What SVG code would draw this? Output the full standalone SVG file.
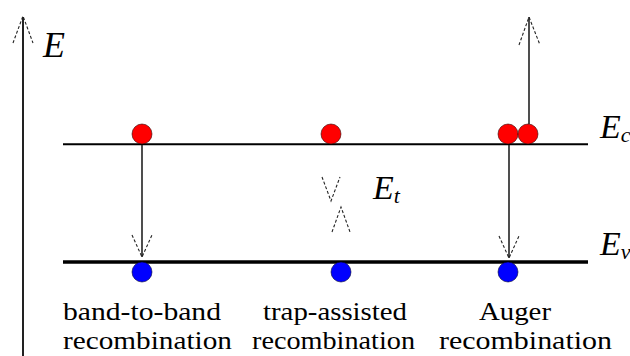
<svg xmlns="http://www.w3.org/2000/svg" width="630" height="356" viewBox="0 0 630 356">
<style>
.axis{stroke:#222;stroke-width:2;fill:none}
.lvl{stroke:#000;fill:none}
.shaft{stroke:#222;stroke-width:1.6;fill:none}
.head{stroke:#222;stroke-width:1.1;fill:none;stroke-dasharray:3 2}
.e{fill:#ff0000;stroke:#300;stroke-width:0.6}
.h{fill:#0000ff;stroke:#003;stroke-width:0.6}
text{fill:#000;font-family:'Liberation Serif','DejaVu Serif',serif}
.lbl{font-size:25px}
.sym{font-style:italic}
</style>
<rect width="630" height="356" fill="#fff"/>
<g id="energy-axis">
<line class="axis" x1="23" y1="356" x2="23" y2="17"/>
<path class="head" d="M13,43 L23,16 L33,43"/>
<text class="sym" x="43" y="57" font-size="36">E</text>
</g>
<g id="conduction-band">
<line class="lvl" x1="63" y1="144.3" x2="588" y2="144.3" stroke-width="2"/>
<text class="sym" x="600" y="138" font-size="34">E<tspan font-size="22" dy="4">c</tspan></text>
</g>
<g id="valence-band">
<line class="lvl" x1="63" y1="262" x2="588" y2="262" stroke-width="3.5"/>
<text class="sym" x="600" y="255" font-size="34">E<tspan font-size="22" dy="4">v</tspan></text>
</g>
<g id="trap-level">
<text class="sym" x="373" y="199" font-size="34">E<tspan font-size="22" dy="4">t</tspan></text>
</g>
<g id="connectors">
<line class="shaft" x1="142" y1="145" x2="142" y2="257"/>
<path class="head" d="M132,235 L142,257 L152,235"/>
<path class="head" d="M322,177 L331,201 L340,177"/>
<path class="head" d="M332,232 L341,207 L350,232"/>
<line class="shaft" x1="509" y1="145" x2="509" y2="258"/>
<path class="head" d="M499,236 L509,258 L519,236"/>
<line class="shaft" x1="529" y1="124" x2="529" y2="17"/>
<path class="head" d="M519,45 L529,17 L540,45"/>
</g>
<g id="band-to-band">
<circle class="e" cx="142" cy="134" r="10"/>
<circle class="h" cx="142" cy="272" r="10"/>
<text class="lbl" x="63" y="320" textLength="158" lengthAdjust="spacingAndGlyphs">band-to-band</text>
<text class="lbl" x="63" y="349" textLength="169" lengthAdjust="spacingAndGlyphs">recombination</text>
</g>
<g id="trap-assisted">
<circle class="e" cx="331" cy="134" r="10"/>
<circle class="h" cx="341" cy="272" r="10"/>
<text class="lbl" x="263" y="320" textLength="144" lengthAdjust="spacingAndGlyphs">trap-assisted</text>
<text class="lbl" x="252" y="349" textLength="163" lengthAdjust="spacingAndGlyphs">recombination</text>
</g>
<g id="auger">
<circle class="e" cx="508" cy="134" r="10"/>
<circle class="e" cx="528" cy="134" r="10"/>
<circle class="h" cx="508" cy="272" r="10"/>
<text class="lbl" x="479" y="320" textLength="72" lengthAdjust="spacingAndGlyphs">Auger</text>
<text class="lbl" x="439" y="349" textLength="173" lengthAdjust="spacingAndGlyphs">recombination</text>
</g>
</svg>
